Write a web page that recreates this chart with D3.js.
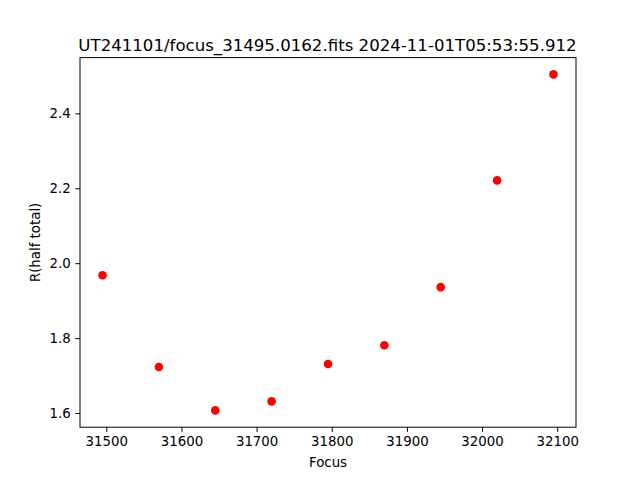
<!DOCTYPE html>
<html><head><meta charset="utf-8">
<script src="https://cdn.jsdelivr.net/npm/d3@7"></script>
<style>body{margin:0;background:#fff}svg{display:block;font-family:"DejaVu Sans",sans-serif}</style>
</head><body>
<script>
const focusValues = [31495, 31570, 31645, 31720, 31795, 31870, 31945, 32020, 32095];
const rHalfTotal = [1.968, 1.723, 1.607, 1.631, 1.731, 1.781, 1.936, 2.221, 2.504];
const xTicks = [31500, 31600, 31700, 31800, 31900, 32000, 32100];
const yTicks = [1.6, 1.8, 2.0, 2.2, 2.4];
const titleText = "UT241101/focus_31495.0162.fits 2024-11-01T05:53:55.912";

const W = 640, H = 480;
const L = 80, R = 576, T = 57.6, B = 427.2;
const svg = d3.select("body").append("svg").attr("width", W).attr("height", H);

const pad = (a) => { const [lo, hi] = d3.extent(a); const m = (hi - lo) * 0.05; return [lo - m, hi + m]; };
const x = d3.scaleLinear().domain(pad(focusValues)).range([L, R]);
const y = d3.scaleLinear().domain(pad(rHalfTotal)).range([B, T]);

const xAxis = svg.append("g").attr("transform", `translate(0,${B})`)
  .call(d3.axisBottom(x).tickValues(xTicks).tickFormat(d3.format("d")).tickSize(4.67).tickPadding(4.67));
const yAxis = svg.append("g").attr("transform", `translate(${L},0)`)
  .call(d3.axisLeft(y).tickValues(yTicks).tickFormat(d3.format(".1f")).tickSize(4.67).tickPadding(4.67));
[xAxis, yAxis].forEach(g => {
  g.select(".domain").remove();
  g.selectAll("line").attr("stroke", "#000").attr("stroke-width", 1);
  g.selectAll("text").attr("fill", "#000").style("font-size", "13.33px").style("font-family", "DejaVu Sans");
});

svg.append("rect").attr("x", L).attr("y", T).attr("width", R - L).attr("height", B - T)
  .attr("fill", "none").attr("stroke", "#000").attr("stroke-width", 1);

svg.append("g").selectAll("circle").data(focusValues).join("circle")
  .attr("cx", (d) => x(d)).attr("cy", (d, i) => y(rHalfTotal[i])).attr("r", 4.3).attr("fill", "#ff0000");

svg.append("text").attr("x", (L + R) / 2 - 0.5).attr("y", 50.5).attr("text-anchor", "middle")
  .style("font-size", "16.6px").text(titleText);
svg.append("text").attr("x", (L + R) / 2).attr("y", 467).attr("text-anchor", "middle")
  .style("font-size", "13.33px").text("Focus");
svg.append("text").attr("transform", `translate(39.5,${(T + B) / 2}) rotate(-90)`).attr("text-anchor", "middle")
  .style("font-size", "13.33px").text("R(half total)");
</script>
</body></html>
